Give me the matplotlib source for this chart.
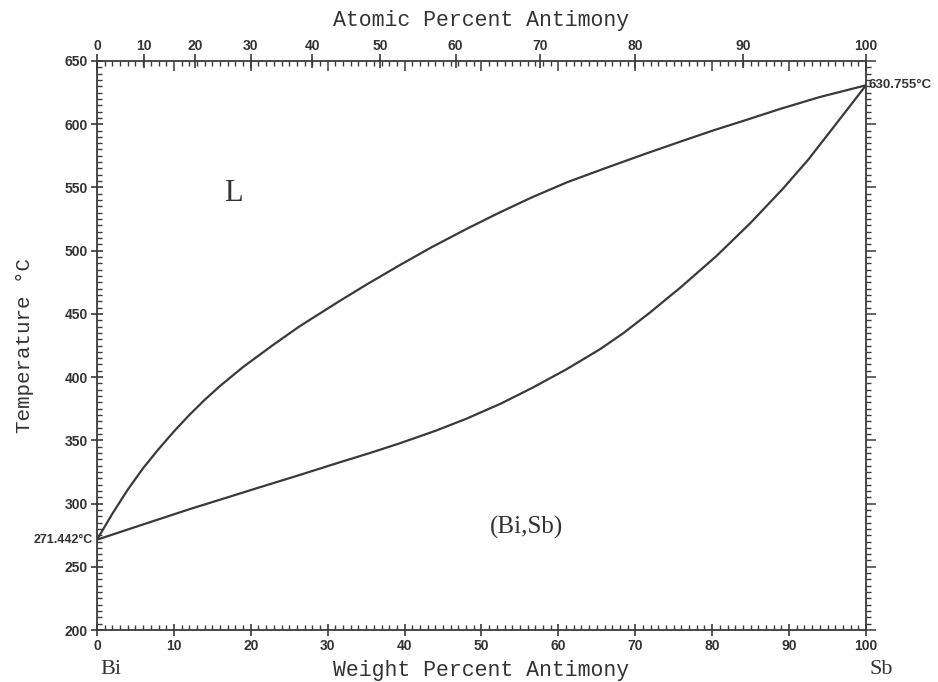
import numpy as np
import matplotlib
matplotlib.use("Agg")
import matplotlib.pyplot as plt
from matplotlib.ticker import MultipleLocator

# liquidus / solidus (wt% Sb, deg C)
liq_w = [0, 2, 4, 6, 8, 10, 12, 14, 16, 19, 22.8, 26.3, 31.5, 35, 39.5, 43.6, 48, 52.3, 56.5, 61.1, 66, 71.5, 76, 80.1, 84.5, 88.8, 94, 100]
liq_T = [271.442, 292, 311, 328, 343, 357, 370, 382, 393, 408, 425, 440, 460, 473, 489, 503, 517, 530, 542, 554, 565, 577, 586.5, 595, 603.5, 612, 621.5, 630.755]
sol_w = [0, 6, 12, 16.5, 20.7, 26.3, 31.5, 35.5, 39.3, 44, 48, 52.5, 56.6, 61, 65.4, 68.5, 71.9, 76, 80.6, 85, 89.2, 92.5, 95.7, 98, 100]
sol_T = [271.442, 283.5, 295.5, 304, 312, 322.5, 332.5, 340, 347.5, 357.5, 367, 379, 391.5, 406, 422, 435, 451, 471.5, 496, 522, 549, 572, 597, 615, 630.755]

at_ticks = [0, 10, 20, 30, 40, 50, 60, 70, 80, 90, 100]
M_Sb = 121.76
M_Bi = 208.98


def wt2at(w):
    w = np.clip(np.asarray(w, dtype=float), 0, 100)
    a = w / M_Sb
    b = (100 - w) / M_Bi
    return 100 * a / np.where(a + b == 0, 1, a + b)


def at2wt(x):
    x = np.clip(np.asarray(x, dtype=float), 0, 100)
    a = x * M_Sb
    b = (100 - x) * M_Bi
    return 100 * a / np.where(a + b == 0, 1, a + b)


lc = '#3a3a3a'
tc = '#333333'
mono = 'Liberation Mono'
sans = 'Liberation Sans'
serif = 'Liberation Serif'

fig = plt.figure(figsize=(9.38, 6.82), dpi=100)
ax = fig.add_axes([0.1034, 0.0762, 0.8198, 0.8344])

ax.plot(liq_w, liq_T, color=lc, lw=1.6)
ax.plot(sol_w, sol_T, color=lc, lw=1.6)

ax.set_xlim(0, 100)
ax.set_ylim(200, 650)
for s in ax.spines.values():
    s.set_color(lc)
    s.set_linewidth(1.3)

ax.xaxis.set_major_locator(MultipleLocator(10))
ax.xaxis.set_minor_locator(MultipleLocator(1))
ax.yaxis.set_major_locator(MultipleLocator(50))
ax.yaxis.set_minor_locator(MultipleLocator(5))
ax.tick_params(which='major', direction='inout', length=9, width=1.2, color=lc,
               labelsize=10, pad=2, top=False, right=False)
ax.tick_params(which='minor', direction='in', length=3.5, width=1.0, color=lc,
               top=False, right=False)
for lab in ax.get_xticklabels() + ax.get_yticklabels():
    lab.set_fontfamily(sans)
    lab.set_fontweight('bold')
    lab.set_color(tc)

# right side ticks pointing outward
axr = ax.secondary_yaxis('right')
axr.yaxis.set_major_locator(MultipleLocator(50))
axr.yaxis.set_minor_locator(MultipleLocator(5))
axr.tick_params(which='major', direction='out', length=7, width=1.1, color=lc, labelright=False)
axr.tick_params(which='minor', direction='out', length=3.5, width=1.0, color=lc)
axr.spines['right'].set_visible(False)

# top: weight percent ticks pointing inward
axw = ax.secondary_xaxis('top')
axw.xaxis.set_major_locator(MultipleLocator(10))
axw.xaxis.set_minor_locator(MultipleLocator(1))
axw.tick_params(which='major', direction='in', length=7, width=1.1, color=lc, labeltop=False)
axw.tick_params(which='minor', direction='in', length=3.5, width=1.0, color=lc)
axw.spines['top'].set_visible(False)

# top axis in atomic percent
axt = ax.secondary_xaxis('top', functions=(wt2at, at2wt))
axt.set_xticks(at_ticks)
axt.tick_params(direction='inout', length=10, width=1.2, color=lc, labelsize=10, pad=1)
for lab in axt.get_xticklabels():
    lab.set_fontfamily(sans)
    lab.set_fontweight('bold')
    lab.set_color(tc)
axt.spines['top'].set_visible(False)
axt.set_xlabel('Atomic Percent Antimony', fontfamily=mono, fontsize=15.5, color=tc, labelpad=9)

ax.set_xlabel('Weight Percent Antimony', fontfamily=mono, fontsize=15.5, color=tc, labelpad=5)
ax.set_ylabel('Temperature °C', fontfamily=mono, fontsize=15, color=tc, labelpad=22)

ax.text(-0.5, 271.442, '271.442°C', ha='right', va='center', fontfamily=sans,
        fontweight='bold', fontsize=9, color=tc, clip_on=False)
ax.text(100.3, 630.755, '630.755°C', ha='left', va='center', fontfamily=sans,
        fontweight='bold', fontsize=9.5, color=tc, clip_on=False)

ax.text(0.5, 168.5, 'Bi', ha='left', va='center', fontfamily=serif, fontsize=16,
        color=tc, clip_on=False)
ax.text(100.5, 168.5, 'Sb', ha='left', va='center', fontfamily=serif, fontsize=16,
        color=tc, clip_on=False)

ax.text(17.7, 545.5, 'L', ha='center', va='center', fontfamily=serif, fontsize=22, color=tc)
ax.text(55.9, 281.5, '(Bi,Sb)', ha='center', va='center', fontfamily=serif, fontsize=18, color=tc)

fig.savefig('out.png', dpi=100)
